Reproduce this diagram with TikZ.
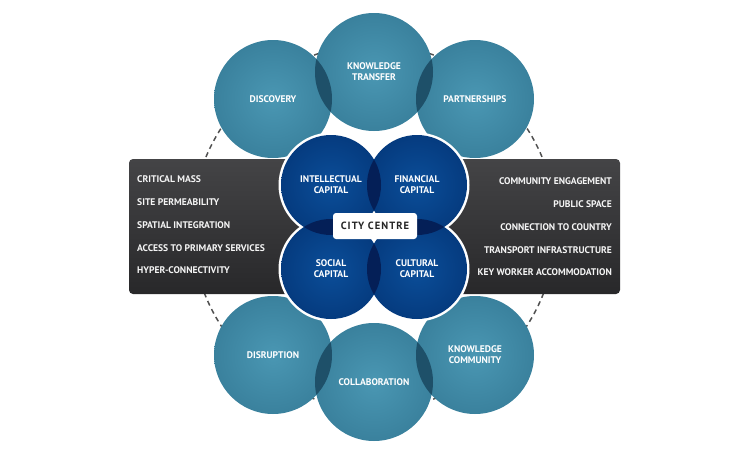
\documentclass[tikz,border=0pt]{standalone}
\usepackage{fontspec}
\setmainfont{PT Sans}
\usetikzlibrary{positioning,shapes,calc}
\definecolor{tealin}{HTML}{4A97B3}
\definecolor{tealout}{HTML}{3A819D}
\definecolor{tealdeep}{HTML}{1E5069}
\definecolor{navyin}{HTML}{0B4E99}
\definecolor{navyout}{HTML}{053B7F}
\definecolor{navydeep}{HTML}{041F57}
\definecolor{panelhi}{HTML}{444446}
\definecolor{panello}{HTML}{28282A}
\definecolor{dashgray}{HTML}{505050}
\begin{document}
\begin{tikzpicture}
  [
  x=1pt, y=-1pt,
  font=\bfseries\fontsize{9.6}{11}\selectfont,
  bubble/.style={circle, minimum size=118pt, inner sep=0pt, shading=radial, inner color=tealin, outer color=tealout, text=white, align=center},
  capital/.style={bubble, minimum size=100pt, inner color=navyin, outer color=navyout},
  panel/.style={rectangle, minimum width=491pt, minimum height=135pt, rounded corners=4pt, top color=panelhi, bottom color=panello},
  item/.style={text=white!92!gray, inner sep=0pt},
  hub/.style={rectangle, rounded corners=3pt, fill=white, minimum width=84pt, minimum height=26pt, text=black!85, font=\bfseries\fontsize{10.5}{12}\selectfont\addfontfeature{LetterSpace=10}},
  ring/.style={draw=dashgray, line width=1.5pt, dash pattern=on 5pt off 4pt}
  ]
\useasboundingbox (0,0) rectangle (750,455);
\coordinate (middle) at (374,227);
\draw[ring] (middle) circle[radius=182pt];

\node[bubble] (discovery) at (273,99) {DISCOVERY};
\node[bubble] (transfer) at (374,72) {KNOWLEDGE\\TRANSFER};
\node[bubble] (partner) at (475,99) {PARTNERSHIPS};
\node[bubble] (disruption) at (273,355) {DISRUPTION};
\node[bubble] (collab) at (374,382) {\raisebox{-2pt}{COLLABORATION}};
\node[bubble] (community) at (475,355) {KNOWLEDGE\\COMMUNITY};

\foreach \a/\b in {discovery/transfer, transfer/partner, disruption/collab, collab/community} {
  \begin{scope}
    \clip (\a.center) circle[radius=59pt];
    \fill[tealdeep] (\b.center) circle[radius=59pt];
  \end{scope}
}

\node[panel] (panel) at (374.5,226.5) {};

\foreach \t [count=\i] in {CRITICAL MASS, SITE PERMEABILITY, SPATIAL INTEGRATION, ACCESS TO PRIMARY SERVICES, HYPER-CONNECTIVITY}
  \node[item, anchor=west] (left\i) at (137,156.1+22.9*\i) {\t};

\foreach \t [count=\i] in {COMMUNITY ENGAGEMENT, PUBLIC SPACE, CONNECTION TO COUNTRY, TRANSPORT INFRASTRUCTURE, KEY WORKER ACCOMMODATION}
  \node[item, anchor=east] (right\i) at (612,158.1+22.9*\i) {\t};

% the four capitals, with a white rim round the group
\coordinate (ic) at (331,185);
\coordinate (fc) at (417,185);
\coordinate (sc) at (331,269);
\coordinate (cc) at (417,269);
\foreach \c in {ic,fc,sc,cc}
  \fill[white] (\c) circle[radius=52.5pt];

\node[capital] (intellectual) at (ic) {INTELLECTUAL\\CAPITAL};
\node[capital] (financial) at (fc) {FINANCIAL\\CAPITAL};
\node[capital] (social) at (sc) {SOCIAL\\CAPITAL};
\node[capital] (cultural) at (cc) {CULTURAL\\CAPITAL};

\foreach \a/\b in {intellectual/financial, intellectual/social, financial/cultural, social/cultural} {
  \begin{scope}
    \clip (\a.center) circle[radius=50pt];
    \fill[navydeep] (\b.center) circle[radius=50pt];
  \end{scope}
}

\node[hub] (centre) at (375,226) {CITY CENTRE};

\end{tikzpicture}
\end{document}
